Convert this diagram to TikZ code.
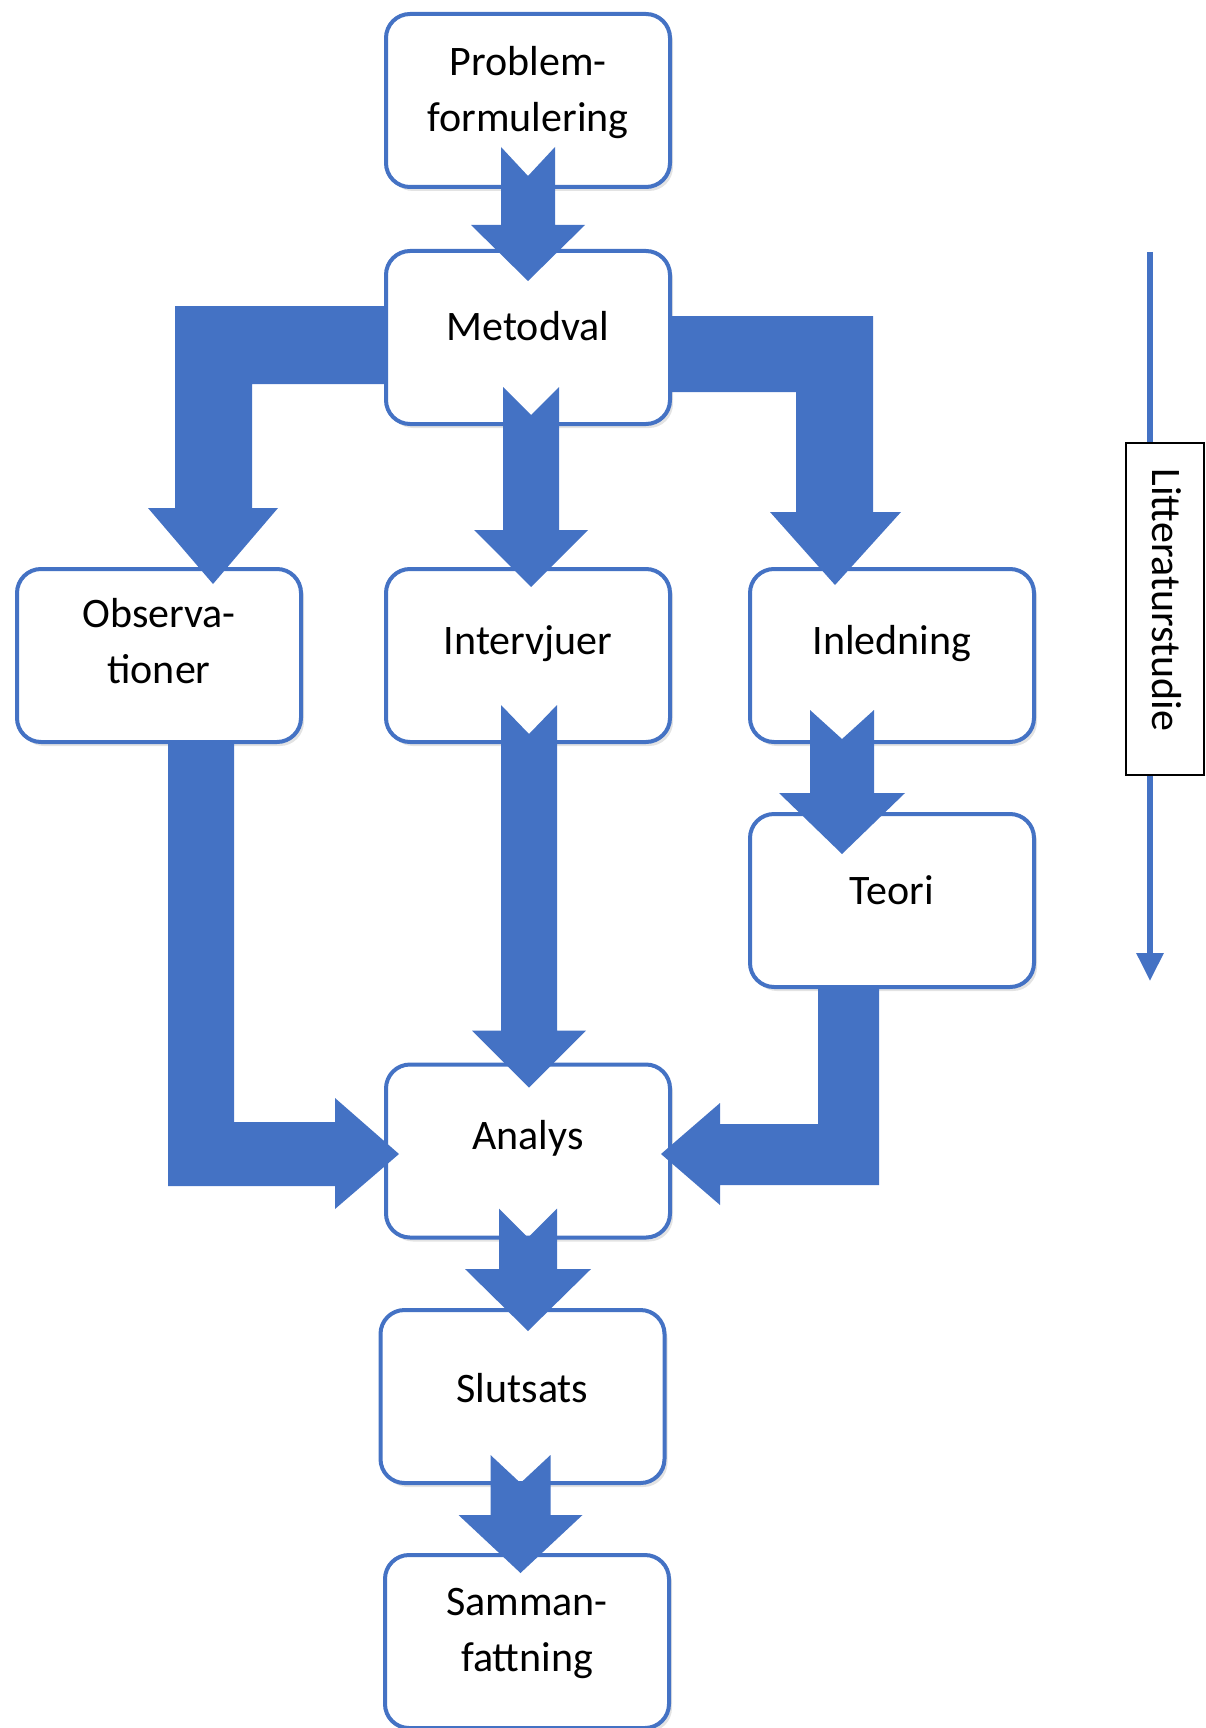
\documentclass[tikz,border=0pt]{standalone}
\usepackage{fontspec}
\setmainfont{Carlito}
\usetikzlibrary{calc,shadows,arrows.meta}
\definecolor{accent}{HTML}{4472C4}
\begin{document}
\begin{tikzpicture}[x=1pt,y=-1pt,
  box/.style={draw=accent, line width=4pt, rounded corners=24pt, fill=white,
    minimum width=284pt, minimum height=173pt, inner sep=0pt, outer sep=0pt,
    drop shadow={shadow xshift=3pt, shadow yshift=-4pt, opacity=0.22}},
  lbl/.style={font=\fontsize{42}{56}\selectfont, align=center, anchor=base, inner sep=0pt},
  arrowfill/.style={fill=accent, draw=none}]
\useasboundingbox (0,0) rectangle (1205,1728);

% boxes
\node[box] (prob)   at (528,100.5) {};
\node[box] (metod)  at (528,337.5) {};
\node[box] (obs)    at (159,655.5) {};
\node[box] (interv) at (528,655.5) {};
\node[box] (inled)  at (892,655.5) {};
\node[box] (teori)  at (892,900.5) {};
\node[box] (analys) at (528,1151) {};
\node[box] (slut)   at (522.5,1396.5) {};
\node[box] (samman) at (527,1641.5) {};

% texts (multi-line nodes: base = last line)
\node[lbl] (probT)   at ($(prob.north)+(0,118)$) {Problem-\\formulering};
\node[lbl] (metodT)  at ($(metod.north)+(0,89)$) {Metodval};
\node[lbl] (obsT)    at ($(obs.north)+(0,114.5)$) {Observa-\\tioner};
\node[lbl] (intervT) at ($(interv.north)+(0,85)$) {Intervjuer};
\node[lbl] (inledT)  at ($(inled.north)+(0,85)$) {Inledning};
\node[lbl] (teoriT)  at ($(teori.north)+(0,90)$) {Teori};
\node[lbl] (analysT) at ($(analys.north)+(0,85)$) {Analys};
\node[lbl] (slutT)   at ($(slut.north)+(0,92)$) {Slutsats};
\node[lbl] (sammanT) at ($(samman.north)+(0,116.5)$) {Samman-\\fattning};

% straight block arrows: from, to, dx, top, notch, base, tip, shaft half, head half
\newcommand\vdown[9]{%
  \coordinate (vc) at ($(#1.south)+(#3,0)$);
  \coordinate (vt) at (vc |- #2.north);
  \fill[accent]
    ($(vc)+(-#8,-#4)$) -- ($(vc)+(0,-#5)$) -- ($(vc)+(#8,-#4)$)
    -- ($(vt)+(#8,-#6)$) -- ($(vt)+(#9,-#6)$)
    -- ($(vt)+(0,#7)$)
    -- ($(vt)+(-#9,-#6)$) -- ($(vt)+(-#8,-#6)$) -- cycle;}
\vdown{prob}{metod}{0}{40}{11}{26}{30}{27}{57}
\vdown{metod}{interv}{3}{37}{9}{39}{18}{28}{57}
\vdown{interv}{analys}{1}{37}{8}{34}{23}{28}{57}
\vdown{analys}{slut}{0}{29}{0}{41}{21}{29}{63}
\vdown{slut}{samman}{-2}{28}{0}{40}{18}{30}{62}
\vdown{inled}{teori}{-50}{32}{3}{21}{40}{32}{63}

% bent arrows from Metodval
\fill[accent]
  ($(metod.west)+(-2,-31.5)$) -- ($(obs.north)+(16,-263)$) -- ($(obs.north)+(16,-61)$)
  -- ($(obs.north)+(-11,-61)$) -- ($(obs.north)+(54,15)$) -- ($(obs.north)+(119,-61)$)
  -- ($(obs.north)+(93,-61)$) -- ($(obs.north)+(93,-185)$) -- ($(metod.west)+(-2,46.5)$) -- cycle;
\fill[accent]
  ($(metod.east)+(2,-21.5)$) -- ($(inled.north)+(-19,-253)$) -- ($(inled.north)+(-19,-57)$)
  -- ($(inled.north)+(9,-57)$) -- ($(inled.north)+(-57,16)$) -- ($(inled.north)+(-122,-57)$)
  -- ($(inled.north)+(-96,-57)$) -- ($(inled.north)+(-96,-177)$) -- ($(metod.east)+(2,54.5)$) -- cycle;

% L arrows into Analys
\fill[accent]
  ($(obs.south)+(9,2)$) -- ($(obs.south)+(75,2)$) -- ($(obs.south)+(75,380)$)
  -- ($(analys.west)+(-51,-29)$) -- ($(analys.west)+(-51,-53)$) -- ($(analys.west)+(13,3)$)
  -- ($(analys.west)+(-51,58)$) -- ($(analys.west)+(-51,35)$) -- ($(obs.south)+(9,444)$) -- cycle;
\fill[accent]
  ($(teori.south)+(-74,2)$) -- ($(teori.south)+(-13,2)$) -- ($(teori.south)+(-13,198)$)
  -- ($(analys.east)+(50,34)$) -- ($(analys.east)+(50,54)$) -- ($(analys.east)+(-9,3)$)
  -- ($(analys.east)+(50,-48)$) -- ($(analys.east)+(50,-27)$) -- ($(teori.south)+(-74,137)$) -- cycle;

% Litteraturstudie
\coordinate (litTop) at (1150,252);
\coordinate (litEnd) at (1150,981);
\draw[accent, line width=6pt, -{Triangle[width=26pt,length=28pt]}] (litTop) -- (litEnd);
\node[draw=black, line width=1.5pt, fill=white, minimum width=78pt, minimum height=332pt, inner sep=0pt] (litbox) at (1165,609) {};
\node[font=\fontsize{42}{56}\selectfont, rotate=-90, inner sep=0pt] (litT) at (1167,600) {Litteraturstudie};
\end{tikzpicture}
\end{document}
